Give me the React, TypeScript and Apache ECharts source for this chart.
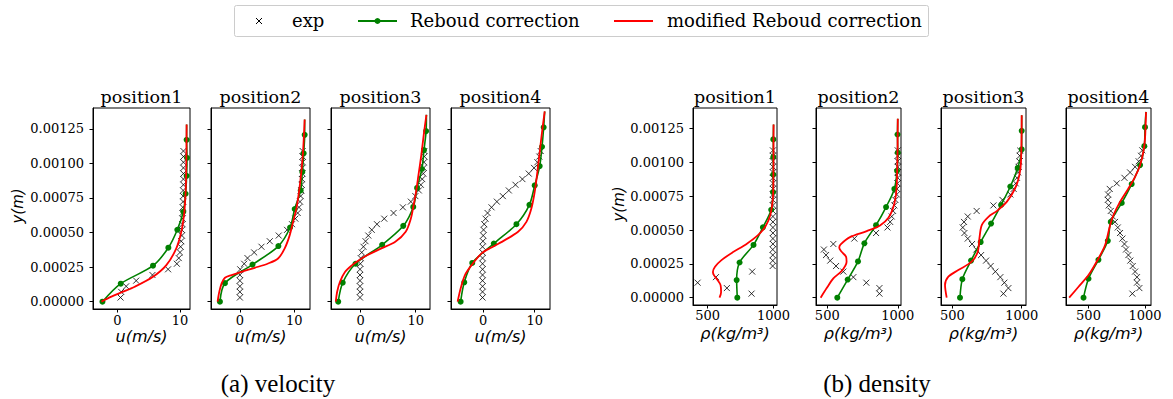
import React, { useEffect, useRef } from "react";
import * as echarts from "echarts";

// ---------------- data ----------------
const expY = [0.00003, 0.000071, 0.000111, 0.000152, 0.000193, 0.000234, 0.000274, 0.000315, 0.000356, 0.000397, 0.000437, 0.000478, 0.000519, 0.00056, 0.0006, 0.000641, 0.000682, 0.000723, 0.000763, 0.000804, 0.000845, 0.000886, 0.000926, 0.000967, 0.001008, 0.001049, 0.001089];

const markerY1 = [0, 0.00013, 0.00026, 0.00039, 0.00052, 0.00065, 0.00078, 0.00091, 0.00104, 0.00117];
const markerY2 = [0, 0.000134, 0.000268, 0.000402, 0.000536, 0.00067, 0.000804, 0.000938, 0.001072, 0.001206];
const markerY3 = [0, 0.000137, 0.000274, 0.000411, 0.000548, 0.000685, 0.000822, 0.000959, 0.001096, 0.001233];
const markerY4 = [0, 0.00014, 0.00028, 0.00042, 0.00056, 0.0007, 0.00084, 0.00098, 0.00112, 0.00126];

// velocity, position 1..4
const vel1ExpX = [0.5, 0.6, 1.4, 3.0, 5.6, 8.1, 9.5, 9.8, 10.0, 10.1, 10.2, 10.3, 10.3, 10.4, 10.4, 10.4, 10.45, 10.5, 10.5, 10.5, 10.55, 10.55, 10.55, 10.55, 10.55, 10.55, 10.55];
const vel1GreenX = [-2.39, 0.53, 5.69, 8.14, 9.57, 10.53, 10.9, 11.06, 11.12, 11.06];
const vel1Top = [11.06, 0.00128];
const vel1RedX = [-2.55, -0.96, 0.64, 2.77, 5.69, 7.82, 9.41, 10.21, 10.64, 10.85, 10.96, 11.01, 11.06];
const vel1RedY = [0, 0.000036, 0.000067, 0.000108, 0.00018, 0.000264, 0.000385, 0.000505, 0.000625, 0.000745, 0.000865, 0.00101, 0.00128];

const vel2ExpX = [0, 0, 0, 0, 0, 0.06, 0.79, 1.4, 2.62, 3.96, 5.49, 7.13, 8.66, 9.57, 10.18, 10.61, 10.85, 11.04, 11.16, 11.28, 11.34, 11.4, 11.46, 11.46, 11.52, 11.52, 11.52];
const vel2GreenX = [-3.66, -2.74, 2.32, 7.07, 9.21, 10.06, 11.16, 11.46, 11.71, 11.89];
const vel2Top = [11.89, 0.001317];
const vel2RedX = [-4.09, -3.84, -3.35, -2.74, -1.52, 0.3, 2.74, 5.18, 7.01, 8.23, 9.15, 9.76, 10.37, 10.85, 11.28, 11.59, 11.89];
const vel2RedY = [0, 0.00006, 0.000132, 0.000173, 0.000192, 0.000216, 0.000245, 0.000276, 0.000312, 0.000385, 0.000481, 0.000577, 0.000673, 0.000793, 0.000938, 0.001082, 0.001317];

const vel3ExpX = [-0.13, -0.13, -0.13, -0.13, -0.13, -0.13, -0.06, 0, 0.19, 0.5, 0.88, 1.38, 2.01, 2.96, 4.28, 5.97, 7.67, 9.12, 9.94, 10.57, 10.94, 11.19, 11.38, 11.45, 11.51, 11.57, 11.57];
const vel3GreenX = [-4.09, -3.27, -0.94, 3.9, 7.74, 9.56, 10.25, 11.13, 11.51, 11.89];
const vel3Top = [11.95, 0.001351];
const vel3RedX = [-4.53, -4.28, -3.77, -2.83, -1.57, -0.31, 1.26, 3.77, 6.29, 8.18, 9.12, 9.62, 10.06, 10.5, 11.01, 11.45, 11.95];
const vel3RedY = [0, 0.000072, 0.000144, 0.000216, 0.000264, 0.0003, 0.000337, 0.000385, 0.000433, 0.000505, 0.000601, 0.000697, 0.000793, 0.000914, 0.001058, 0.001202, 0.001351];

const vel4ExpX = [-0.13, -0.13, -0.13, -0.13, -0.13, -0.13, -0.13, -0.13, -0.13, -0.13, -0.06, 0, 0.06, 0.19, 0.45, 0.84, 1.61, 2.65, 3.81, 4.97, 6.26, 7.61, 8.84, 9.87, 10.52, 10.9, 11.16];
const vel4GreenX = [-4.39, -3.68, -2.13, 2.06, 6.45, 8.97, 10.0, 10.97, 11.42, 11.74];
const vel4Top = [11.94, 0.001375];
const vel4RedX = [-4.97, -4.84, -4.39, -3.55, -2.26, -0.32, 1.61, 4.19, 6.77, 8.39, 9.35, 10.0, 10.52, 10.97, 11.42, 11.94];
const vel4RedY = [0, 0.000024, 0.000096, 0.000192, 0.000264, 0.000349, 0.000392, 0.000445, 0.000505, 0.000577, 0.000673, 0.000793, 0.000938, 0.001082, 0.001226, 0.001375];

// density, position 1..4
const den1ExpX = [833, 646, 424, 563, 838, 993, 994, 994, 994, 995, 995, 995, 995, 995, 995, 995, 995, 995, 995, 995, 995, 995, 995, 995, 995, 995, 995];
const den1GreenX = [725, 720, 742, 848, 919, 982, 996, 998, 998, 998];
const den1Top = [1000, 0.00128];
const den1RedX = [590, 602, 598, 575, 548, 540, 556, 605, 690, 790, 880, 940, 975, 992, 998, 1000];
const den1RedY = [0, 0.00004, 0.000093, 0.00013, 0.000167, 0.00019, 0.000229, 0.000278, 0.000335, 0.000394, 0.00046, 0.00053, 0.000612, 0.000708, 0.0008, 0.00128];

const den2ExpX = [870, 870, 777, 685, 614, 562, 521, 491, 476, 543, 692, 846, 927, 946, 957, 967, 976, 983, 993, 995, 998, 1000, 1000, 1000, 1000, 1000, 1000];
const den2GreenX = [571, 645, 718, 763, 846, 917, 976, 995, 1000, 998];
const den2Top = [1000, 0.001323];
const den2RedX = [453, 495, 543, 602, 637, 633, 602, 585, 595, 661, 780, 874, 934, 976, 993, 1000];
const den2RedY = [0, 0.000069, 0.000143, 0.000197, 0.000266, 0.000303, 0.000339, 0.000369, 0.000394, 0.000448, 0.000492, 0.000534, 0.00059, 0.000696, 0.000831, 0.001323];

const den3ExpX = [868, 904, 875, 846, 810, 776, 743, 707, 673, 642, 611, 587, 575, 584, 611, 675, 796, 861, 918, 942, 957, 966, 974, 978, 983, 986, 988];
const den3GreenX = [555, 572, 635, 704, 779, 851, 918, 971, 1000, 1000];
const den3Top = [1000, 0.001348];
const den3RedX = [459, 447, 471, 543, 639, 683, 695, 712, 760, 820, 892, 952, 983, 995, 1000];
const den3RedY = [0, 0.000093, 0.000155, 0.000204, 0.000266, 0.000339, 0.000438, 0.000536, 0.000598, 0.00064, 0.000708, 0.000807, 0.000905, 0.001004, 0.001348];

const den4ExpX = [888, 950, 929, 929, 912, 891, 870, 853, 832, 818, 800, 779, 759, 735, 715, 697, 679, 671, 673, 688, 750, 818, 868, 912, 944, 965, 976];
const den4GreenX = [456, 500, 588, 671, 697, 794, 882, 956, 994, 1000];
const den4Top = [1009, 0.001373];
const den4RedX = [329, 412, 500, 588, 647, 691, 721, 779, 853, 912, 956, 985, 1000, 1009];
const den4RedY = [0, 0.000081, 0.000167, 0.00029, 0.000389, 0.000536, 0.00061, 0.000708, 0.000807, 0.000893, 0.000979, 0.001077, 0.001176, 0.001373];

const yTicks = [0, 0.00025, 0.0005, 0.00075, 0.001, 0.00125];
const velTicks = [0, 10];
const denTicks = [500, 1000];
const titles = ["position1", "position2", "position3", "position4"];
const legendLabels = ["exp", "Reboud correction", "modified Reboud correction"];
const captions = ["(a) velocity", "(b) density"];

// ---------------- layout ----------------
const velLeft = [93, 211, 331, 451];
const velWidth = [97, 99, 99, 99];
const velRange = [[-3.9, 11.6], [-5.3, 12.87], [-5.4, 12.6], [-6.26, 12.97]];
const denLeft = [693, 816, 941, 1066];
const denWidth = [84, 85, 85, 85];
const denRange = [[389, 1026], [420, 1023], [418, 1031], [301, 1053]];

const X_PATH = "path://M0,0L10,10M10,0L0,10";
const GREEN = "#008000";
const RED = "#ff0000";
const SERIF = "DejaVu Serif";

export default function App() {
  const ref = useRef<HTMLDivElement>(null);
  useEffect(() => {
    if (!ref.current) return;
    const chart = echarts.init(ref.current, undefined, { renderer: "svg" });

    const panels = [
      { kind: "vel", i: 0, expX: vel1ExpX, gX: vel1GreenX, mY: markerY1, top: vel1Top, rX: vel1RedX, rY: vel1RedY },
      { kind: "vel", i: 1, expX: vel2ExpX, gX: vel2GreenX, mY: markerY2, top: vel2Top, rX: vel2RedX, rY: vel2RedY },
      { kind: "vel", i: 2, expX: vel3ExpX, gX: vel3GreenX, mY: markerY3, top: vel3Top, rX: vel3RedX, rY: vel3RedY },
      { kind: "vel", i: 3, expX: vel4ExpX, gX: vel4GreenX, mY: markerY4, top: vel4Top, rX: vel4RedX, rY: vel4RedY },
      { kind: "den", i: 0, expX: den1ExpX, gX: den1GreenX, mY: markerY1, top: den1Top, rX: den1RedX, rY: den1RedY },
      { kind: "den", i: 1, expX: den2ExpX, gX: den2GreenX, mY: markerY2, top: den2Top, rX: den2RedX, rY: den2RedY },
      { kind: "den", i: 2, expX: den3ExpX, gX: den3GreenX, mY: markerY3, top: den3Top, rX: den3RedX, rY: den3RedY },
      { kind: "den", i: 3, expX: den4ExpX, gX: den4GreenX, mY: markerY4, top: den4Top, rX: den4RedX, rY: den4RedY },
    ];

    const grids: any[] = [];
    const xAxes: any[] = [];
    const yAxes: any[] = [];
    const series: any[] = [];
    const graphics: any[] = [];

    panels.forEach((p, k) => {
      const isVel = p.kind === "vel";
      const left = isVel ? velLeft[p.i] : denLeft[p.i];
      const width = isVel ? velWidth[p.i] : denWidth[p.i];
      const top = 108;
      const height = isVel ? 201 : 197;
      const yMin = isVel ? -0.000053 : -0.000054;
      const yMax = isVel ? 0.0014 : 0.001402;
      const range = isVel ? velRange[p.i] : denRange[p.i];
      grids.push({ left, top, width, height, show: true, borderColor: "#000", borderWidth: 1, backgroundColor: "transparent", containLabel: false });
      xAxes.push({
        gridIndex: k, type: "value", min: range[0], max: range[1],
        axisLine: { show: true, onZero: false, lineStyle: { color: "#000", width: 1 } },
        axisTick: { show: true, length: 3.5, customValues: isVel ? velTicks : denTicks, lineStyle: { color: "#000", width: 1 } },
        axisLabel: { show: true, customValues: isVel ? velTicks : denTicks, margin: isVel ? 5 : 4, color: "#000", fontFamily: SERIF, fontSize: 13, formatter: (v: number) => String(Math.round(v)) },
        splitLine: { show: false },
      });
      yAxes.push({
        gridIndex: k, type: "value", min: yMin, max: yMax,
        axisLine: { show: true, onZero: false, lineStyle: { color: "#000", width: 1 } },
        axisTick: { show: true, length: 3.5, customValues: yTicks, lineStyle: { color: "#000", width: 1 } },
        axisLabel: { show: p.i === 0, customValues: yTicks, margin: 9, color: "#000", fontFamily: SERIF, fontSize: 13, formatter: (v: number) => v.toFixed(5) },
        splitLine: { show: false },
      });
      series.push({
        type: "scatter", xAxisIndex: k, yAxisIndex: k,
        data: p.expX.map((x, j) => [x, expY[j]]),
        symbol: X_PATH, symbolSize: 6,
        itemStyle: { color: "transparent", borderColor: "#000", borderWidth: 1 },
        z: 2,
      });
      const gData: any[] = p.gX.map((x, j) => [x, p.mY[j]]);
      gData.push({ value: p.top, symbol: "none" });
      series.push({
        type: "line", xAxisIndex: k, yAxisIndex: k, data: gData,
        symbol: "circle", symbolSize: 6, showSymbol: true, showAllSymbol: true, smooth: 0.3,
        lineStyle: { color: GREEN, width: 1.6 }, itemStyle: { color: GREEN, borderWidth: 0 },
        z: 3,
      });
      series.push({
        type: "line", xAxisIndex: k, yAxisIndex: k,
        data: p.rX.map((x, j) => [x, p.rY[j]]),
        symbol: "none", smooth: 0.3,
        lineStyle: { color: RED, width: 1.8 },
        z: 4,
      });
      // title
      graphics.push({ type: "text", x: left + width / 2, y: 97, style: { text: titles[p.i], font: `17.5px '${SERIF}'`, fill: "#000", align: "center", verticalAlign: "middle" } });
      // x axis name
      graphics.push({ type: "text", x: left + width / 2, y: isVel ? 336 : 333, style: { text: isVel ? "u(m/s)" : "ρ(kg/m³)", font: "italic 16px 'DejaVu Sans'", fill: "#000", align: "center", verticalAlign: "middle" } });
    });

    // y axis names
    graphics.push({ type: "text", x: 18, y: 206, rotation: Math.PI / 2, style: { text: "y(m)", font: "italic 15px 'DejaVu Sans'", fill: "#000", align: "center", verticalAlign: "middle" } });
    graphics.push({ type: "text", x: 619, y: 204, rotation: Math.PI / 2, style: { text: "y(m)", font: "italic 15px 'DejaVu Sans'", fill: "#000", align: "center", verticalAlign: "middle" } });

    // legend
    graphics.push({ type: "rect", shape: { x: 234.5, y: 5.5, width: 694, height: 31, r: 2 }, style: { fill: "#fff", stroke: "#cccccc", lineWidth: 1 } });
    graphics.push({ type: "line", shape: { x1: 256, y1: 18, x2: 262, y2: 24 }, style: { stroke: "#000", lineWidth: 1 } });
    graphics.push({ type: "line", shape: { x1: 262, y1: 18, x2: 256, y2: 24 }, style: { stroke: "#000", lineWidth: 1 } });
    graphics.push({ type: "text", x: 292, y: 20, style: { text: legendLabels[0], font: `18px '${SERIF}'`, fill: "#000", align: "left", verticalAlign: "middle" } });
    graphics.push({ type: "line", shape: { x1: 358, y1: 21, x2: 397, y2: 21 }, style: { stroke: GREEN, lineWidth: 2 } });
    graphics.push({ type: "circle", shape: { cx: 377.5, cy: 21, r: 3 }, style: { fill: GREEN } });
    graphics.push({ type: "text", x: 410, y: 20, style: { text: legendLabels[1], font: `18px '${SERIF}'`, fill: "#000", align: "left", verticalAlign: "middle" } });
    graphics.push({ type: "line", shape: { x1: 614, y1: 21, x2: 653, y2: 21 }, style: { stroke: RED, lineWidth: 2 } });
    graphics.push({ type: "text", x: 667, y: 20, style: { text: legendLabels[2], font: `18px '${SERIF}'`, fill: "#000", align: "left", verticalAlign: "middle" } });

    // captions
    graphics.push({ type: "text", x: 278, y: 383, style: { text: captions[0], font: "25px 'Liberation Serif'", fill: "#000", align: "center", verticalAlign: "middle" } });
    graphics.push({ type: "text", x: 877, y: 383, style: { text: captions[1], font: "25px 'Liberation Serif'", fill: "#000", align: "center", verticalAlign: "middle" } });

    chart.setOption({
      animation: false,
      backgroundColor: "#fff",
      textStyle: { fontFamily: SERIF },
      grid: grids,
      xAxis: xAxes,
      yAxis: yAxes,
      series,
      graphic: graphics,
    });
    return () => chart.dispose();
  }, []);
  return <div ref={ref} style={{ position: "fixed", left: 0, top: 0, width: 1173, height: 399, background: "#fff" }} />;
}
